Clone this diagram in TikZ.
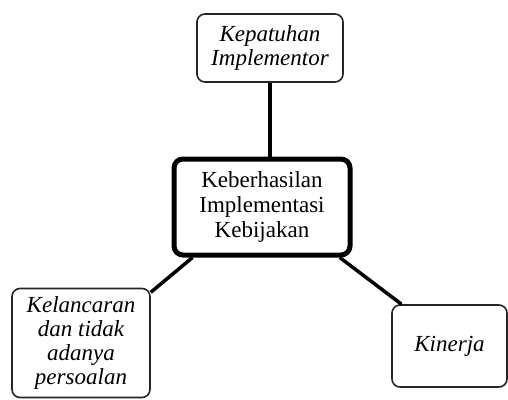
\documentclass[tikz,border=0pt]{standalone}
\usepackage{fontspec}
\setmainfont{Liberation Serif}
\usepackage{tikz}
\usetikzlibrary{calc}

\begin{document}
\begin{tikzpicture}[x=1pt, y=-1pt,
  box/.style={draw=black!85, line width=1.6pt, rounded corners=8pt, fill=white,
    align=center, inner sep=0pt, font=\fontsize{23}{24}\selectfont\itshape},
  mainbox/.style={draw=black, line width=5pt, rounded corners=9pt, fill=white,
    align=center, inner sep=0pt, font=\fontsize{23}{25}\selectfont},
  conn/.style={color=black, line width=3.5pt, -}]
\useasboundingbox (0,0) rectangle (508,399);
\node[mainbox, minimum width=176pt, minimum height=96pt] (kb) at (262, 207) {Keberhasilan\\Implementasi\\Kebijakan};
\node[box, minimum width=146pt, minimum height=68pt] (kp) at (270, 48) {Kepatuhan\\Implementor};
\node[box, minimum width=138pt, minimum height=109pt] (kl) at (81, 343) {Kelancaran\\dan tidak\\adanya\\persoalan};
\node[box, minimum width=115pt, minimum height=82pt] (kn) at (449.5, 346) {Kinerja};
\draw (kp.south) edge[conn] (kp.south |- kb.north);
\draw (kb.216) edge[conn] (kl.36);
\draw (kb.-33) edge[conn] (kn.139);
\end{tikzpicture}
\end{document}
